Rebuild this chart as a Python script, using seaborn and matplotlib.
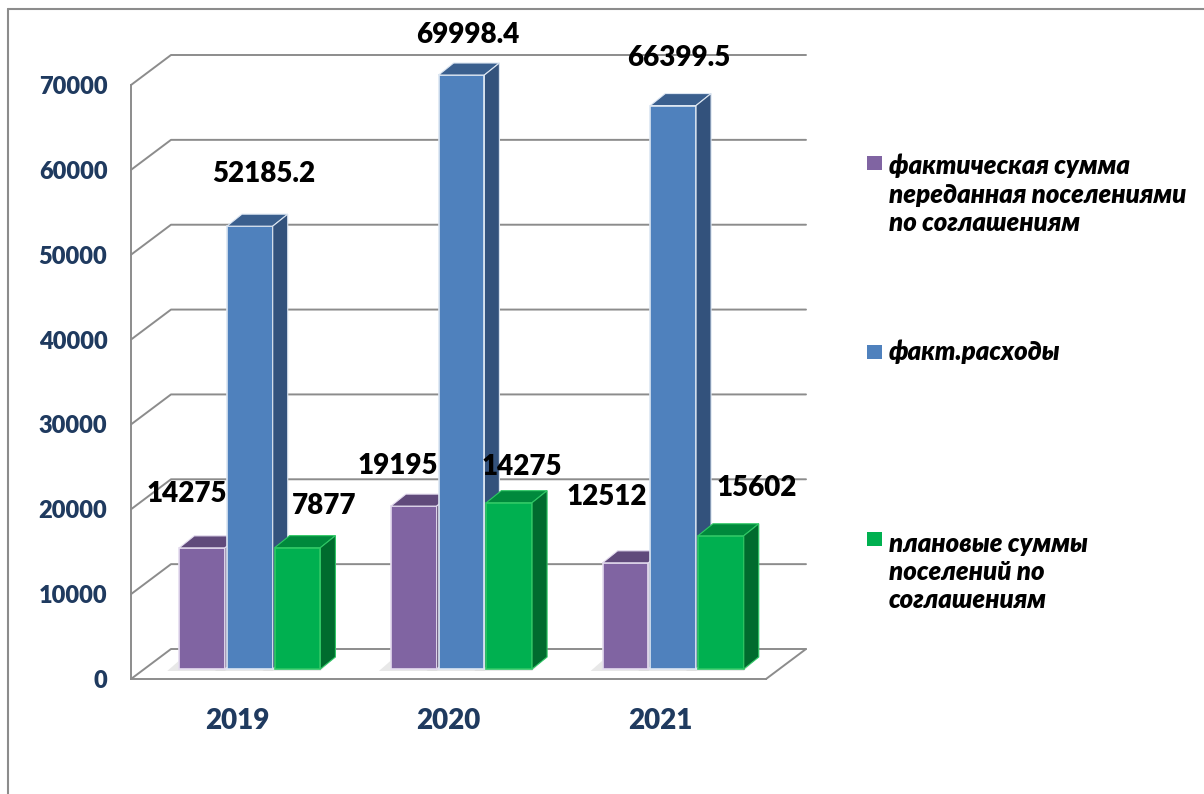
import numpy as np
import pandas as pd
import seaborn as sns
import matplotlib.pyplot as plt
from matplotlib.patches import Polygon, Rectangle
from matplotlib.lines import Line2D
from matplotlib.transforms import offset_copy

# Data
years = ['2019', '2020', '2021']
series = ['фактическая сумма\nпереданная поселениями\nпо соглашениям',
          'факт.расходы',
          'плановые суммы\nпоселений по\nсоглашениям']
fact_transfer = [14275, 19195, 12512]
fact_spend = [52185.2, 69998.4, 66399.5]
plan_sums = [14300, 19600, 15700]          # green bar heights as drawn
labels_transfer = ['14275', '19195', '12512']
labels_spend = ['52185.2', '69998.4', '66399.5']
labels_plan = ['7877', '14275', '15602']    # labels as printed on the chart
yticks = [0, 10000, 20000, 30000, 40000, 50000, 60000, 70000]

front = ['#8064A2', '#4F81BD', '#00B050']
top = ['#604A7B', '#3A5F8E', '#00893C']
side = ['#4E3C66', '#33527C', '#006B2E']
edge = ['#E4DCEF', '#DCE6F2', '#2FC865']
grid_c = '#8C8C8C'
axis_txt = '#1F3A5F'

sns.set_style('white')
plt.rcParams['font.family'] = ['Lato', 'Open Sans', 'DejaVu Sans']
heavy = 'heavy'

W, H = 1204, 794
fig = plt.figure(figsize=(W / 100, H / 100), dpi=100)
ax = fig.add_axes([131 / W, (H - 679) / H, 635 / W, 594 / H])

df = pd.DataFrame({
    'year': years * 3,
    'series': np.repeat(series, 3),
    'value': fact_transfer + fact_spend + plan_sums,
})
sns.barplot(data=df, x='year', y='value', hue='series', hue_order=series,
            palette=front, width=0.676, gap=0.04, saturation=1,
            legend=False, ax=ax)
ax.set_xlim(-0.5, 2.5)
ax.set_ylim(0, 70000)

# pixel -> data units
px_x = 3 / 635
px_y = 70000 / 594

# back wall / floor grid (3d look)
bdx, bdy = 40 * px_x, 30 * px_y
for v in yticks:
    ax.plot([-0.5, -0.5 + bdx, 2.5 + bdx], [v, v + bdy, v + bdy],
            color=grid_c, lw=1.4, clip_on=False, zorder=0.5)
ax.plot([2.5, 2.5 + bdx], [0, bdy], color=grid_c, lw=1.4, clip_on=False, zorder=0.5)

# bars: push front faces back a bit and add tops and sides
bar_tr = offset_copy(ax.transData, fig=fig, x=13, y=10, units='dots')
ddx, ddy = 15 * px_x, 12 * px_y
all_labels = [labels_transfer, labels_spend, labels_plan]
nudges = [[(-15, 54), (-16, 40), (-19, 66)],
          [(14, 52), (6, 40), (6, 48)],
          [(27, 42), (13, 36), (36, 48)]]

bars = []
for i, p in enumerate(ax.patches):
    bars.append((p.get_x(), i // 3, i % 3, p))
bars.sort(key=lambda b: b[0])

for z, (x0, k, c, p) in enumerate(bars):
    w = p.get_width()
    h = p.get_height()
    x1 = x0 + w
    zz = 2 + z * 0.1
    # soft shadow on the floor
    ax.add_patch(Polygon([(x0 - 12 * px_x, -2 * px_y), (x1, -2 * px_y),
                          (x1 + ddx, ddy), (x0 + 4 * px_x, ddy)],
                         closed=True, transform=bar_tr, facecolor='#D9D9D9',
                         edgecolor='none', alpha=0.6, zorder=1, clip_on=False))
    p.set_transform(bar_tr)
    p.set_edgecolor(edge[k])
    p.set_linewidth(1.2)
    p.set_zorder(zz)
    p.set_clip_on(False)
    ax.add_patch(Polygon([(x0, h), (x1, h), (x1 + ddx, h + ddy), (x0 + ddx, h + ddy)],
                         closed=True, transform=bar_tr, facecolor=top[k],
                         edgecolor=edge[k], lw=0.8, zorder=zz, clip_on=False))
    ax.add_patch(Polygon([(x1, 0), (x1 + ddx, ddy), (x1 + ddx, h + ddy), (x1, h)],
                         closed=True, transform=bar_tr, facecolor=side[k],
                         edgecolor=edge[k], lw=0.8, zorder=zz, clip_on=False))
    nx, ny = nudges[k][c]
    ax.annotate(all_labels[k][c], xy=(x0 + w / 2, h), xycoords=bar_tr,
                xytext=(nx, ny), textcoords='offset pixels',
                ha='center', va='center', fontsize=20, fontweight=heavy,
                color='black', zorder=20, annotation_clip=False)

# axes styling
sns.despine(ax=ax)
for s in ['left', 'bottom']:
    ax.spines[s].set_color(grid_c)
    ax.spines[s].set_linewidth(1.4)
ax.set_yticks(yticks)
ax.set_yticklabels([str(v) for v in yticks])
ax.tick_params(axis='y', length=5, width=1.2, color=grid_c, pad=12,
               labelsize=17, labelcolor=axis_txt)
ax.set_xticks([0, 1, 2])
ax.set_xticklabels(years)
ax.set_xticks([-0.5, 0.5, 1.5, 2.5], minor=True)
ax.tick_params(axis='x', which='major', length=0, pad=21, labelsize=20,
               labelcolor=axis_txt)
ax.tick_params(axis='x', which='minor', length=6.5, width=1.2, color=grid_c)
for t in ax.get_xticklabels() + ax.get_yticklabels():
    t.set_fontweight(heavy)
ax.set_xlabel('')
ax.set_ylabel('')

# legend drawn by hand (Excel spreads entries)
leg_y = [194.5, 352, 572]
mark_y = [162.5, 352, 539]
for k in range(3):
    fig.add_artist(Rectangle((867 / W, 1 - (mark_y[k] + 7) / H), 15 / W, 14 / H,
                             transform=fig.transFigure, facecolor=front[k],
                             edgecolor='none'))
    fig.text(889 / W, 1 - leg_y[k] / H, series[k], ha='left', va='center',
             fontsize=18.5, fontweight=heavy, fontstyle='italic',
             color='black', linespacing=1.22)

# outer frame
fig.add_artist(Line2D([8 / W, 8 / W], [0, 1 - 9 / H], transform=fig.transFigure,
                      color='#8C8C8C', lw=1.5))
fig.add_artist(Line2D([8 / W, 1], [1 - 9 / H, 1 - 9 / H], transform=fig.transFigure,
                      color='#8C8C8C', lw=1.5))

fig.savefig('out.png', dpi=100)
